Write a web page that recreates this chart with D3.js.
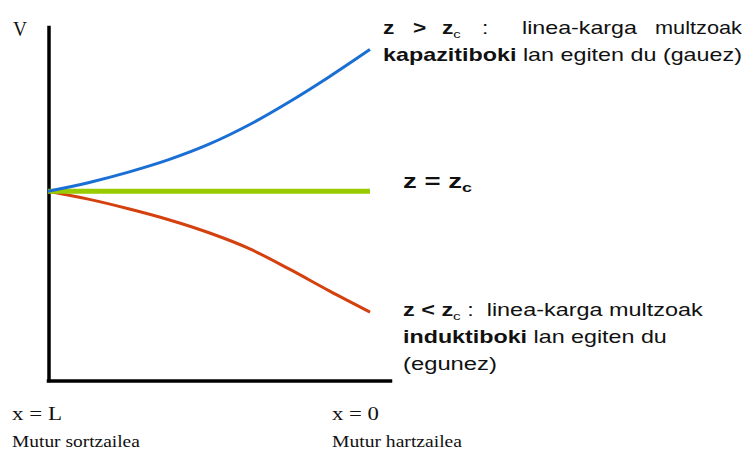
<!DOCTYPE html>
<html><head><meta charset="utf-8">
<script src="https://cdn.jsdelivr.net/npm/d3@7"></script>
<style>body{margin:0;background:#fff}svg{display:block}text{white-space:pre}</style>
</head><body>
<script>
// Data: position along line (0 = x=L, 1 = x=0) and voltage (relative, V at x=L = 1)
const tGrid  = [0, 0.125, 0.25, 0.375, 0.5, 0.625, 0.75, 0.875, 1];
const blueV  = [1.0, 1.045, 1.101, 1.167, 1.249, 1.352, 1.474, 1.608, 1.751]; // z > zc
const greenV = [1.0, 1.0, 1.0, 1.0, 1.0, 1.0, 1.0, 1.0, 1.0];                 // z = zc
const redV   = [1.0, 0.958, 0.907, 0.849, 0.780, 0.696, 0.587, 0.471, 0.360]; // z < zc

const W = 750, H = 451;
const svg = d3.select("body").append("svg").attr("width", W).attr("height", H);

const x = d3.scaleLinear().domain([0, 1]).range([48, 370]);
const xAxisScale = d3.scaleLinear().domain([0, 1.062]).range([48, 390]);
const y = d3.scaleLinear().domain([0, 1.87]).range([380, 27]);

// axes
const ya = svg.append("g").attr("transform", "translate(48.5,0)")
  .call(d3.axisLeft(y).ticks(0).tickSize(0).tickSizeOuter(0));
const xa = svg.append("g").attr("transform", "translate(0,380.5)")
  .call(d3.axisBottom(xAxisScale).ticks(0).tickSize(0).tickSizeOuter(0));
[ya, xa].forEach(g => g.select(".domain").attr("stroke", "#000").attr("stroke-width", 3.5).attr("stroke-linecap", "square"));
svg.selectAll(".tick").remove();

const line = d3.line().x((d, i) => x(tGrid[i])).y(d => y(d)).curve(d3.curveMonotoneX);
svg.append("path").datum(redV).attr("d", line).attr("fill", "none").attr("stroke", "#d4400e").attr("stroke-width", 3);
svg.append("path").datum(greenV).attr("d", line).attr("fill", "none").attr("stroke", "#99cc00").attr("stroke-width", 5);
svg.append("path").datum(blueV).attr("d", line).attr("fill", "none").attr("stroke", "#1a6fd4").attr("stroke-width", 3);

// text helpers
const SANS = "'Liberation Sans', Arial, sans-serif";
const SERIF = "'Liberation Serif', 'Times New Roman', serif";
function label(px, py, parts, opts) {
  const g = svg.append("g").attr("transform", `translate(${px},${py})`);
  const t = g.append("text").attr("font-family", opts.font).attr("font-size", opts.size).attr("fill", "#111");
  parts.forEach(p => {
    const ts = t.append("tspan").text(p.t).attr("font-weight", p.b ? "bold" : "normal");
    if (p.sub) ts.attr("font-size", opts.size * 0.65).attr("dy", opts.size * 0.22);
    if (p.after) ts.attr("dy", -opts.size * 0.22);
  });
  if (opts.width) {
    const w = t.node().getComputedTextLength();
    g.attr("transform", `translate(${px},${py}) scale(${opts.width / w},1)`);
  } else if (opts.sx) {
    g.attr("transform", `translate(${px},${py}) scale(${opts.sx},1)`);
  }
  return t;
}

// serif labels
label(13, 36, [{t: "V"}], {font: SERIF, size: 20, width: 14});
label(12, 420, [{t: "x = L"}], {font: SERIF, size: 19, width: 50});
label(332, 420, [{t: "x = 0"}], {font: SERIF, size: 19, width: 47});
label(12, 447, [{t: "Mutur sortzailea"}], {font: SERIF, size: 16.5, width: 128});
label(332, 447, [{t: "Mutur hartzailea"}], {font: SERIF, size: 16.5, width: 130});

// sans labels (top)
const sz = 17.5;
label(383, 61, [{t: "kapazitiboki", b: true}, {t: " lan egiten du (gauez)"}], {font: SANS, size: sz, width: 359});
label(383, 34, [{t: "z", b: true}], {font: SANS, size: sz, sx: 1.3});
label(413, 34, [{t: ">", b: true}], {font: SANS, size: sz, sx: 1.3});
label(442, 34, [{t: "z", b: true}, {t: "c", b: false, sub: true}, {t: "", after: true}], {font: SANS, size: sz, sx: 1.3});
label(482, 34, [{t: ":"}], {font: SANS, size: sz, sx: 1.3});
label(522, 34, [{t: "linea-karga"}], {font: SANS, size: sz, width: 115});
label(655, 34, [{t: "multzoak"}], {font: SANS, size: sz, width: 87});

// middle
label(403, 188, [{t: "z = z", b: true}, {t: "c", b: true, sub: true}], {font: SANS, size: 20, width: 69});

// bottom
label(403, 316, [{t: "z < z", b: true}, {t: "c", sub: true}, {t: " :  linea-karga multzoak", after: true}], {font: SANS, size: sz, width: 300});
label(403, 343, [{t: "induktiboki", b: true}, {t: " lan egiten du"}], {font: SANS, size: sz, width: 264});
label(403, 370, [{t: "(egunez)"}], {font: SANS, size: sz, width: 94});
</script>
</body></html>
